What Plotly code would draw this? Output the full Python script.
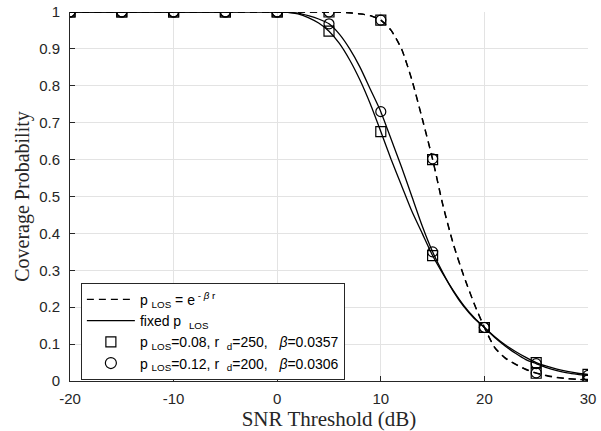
import plotly.graph_objects as go

# ---- data ----
x_line = [-20, -15, -10, -5, 0, 1, 2, 3, 4, 5, 6, 7, 8, 9, 10, 11, 12, 13, 14, 15,
          16, 17, 18, 19, 20, 21, 22, 23, 24, 25, 26, 27, 28, 29, 30]

fixed_sq = [1, 1, 1, 1, 1.0, 0.999, 0.995, 0.985, 0.97, 0.948, 0.915, 0.87, 0.815, 0.75, 0.676,
            0.60, 0.53, 0.46, 0.40, 0.34, 0.29, 0.245, 0.205, 0.172, 0.145,
            0.12, 0.098, 0.08, 0.064, 0.05, 0.04, 0.032, 0.026, 0.021, 0.018]
fixed_ci = [1, 1, 1, 1, 1.0, 0.999, 0.997, 0.99, 0.981, 0.968, 0.94, 0.90, 0.85, 0.79, 0.73,
            0.655, 0.58, 0.50, 0.42, 0.35, 0.293, 0.243, 0.202, 0.17, 0.145,
            0.118, 0.095, 0.075, 0.058, 0.047, 0.036, 0.028, 0.022, 0.018, 0.015]
exp_sq = [1, 1, 1, 1, 1.0, 1.0, 1.0, 1.0, 1.0, 1.0, 0.999, 0.998, 0.995, 0.99, 0.978,
          0.95, 0.90, 0.815, 0.71, 0.60, 0.475, 0.37, 0.285, 0.21, 0.145,
          0.09, 0.062, 0.045, 0.031, 0.021, 0.014, 0.009, 0.006, 0.004, 0.003]
exp_ci = [1, 1, 1, 1, 1.0, 1.0, 1.0, 1.0, 1.0, 1.0, 0.999, 0.998, 0.995, 0.99, 0.978,
          0.95, 0.90, 0.817, 0.712, 0.602, 0.477, 0.372, 0.286, 0.211, 0.145,
          0.091, 0.063, 0.046, 0.032, 0.022, 0.015, 0.01, 0.007, 0.005, 0.003]

x_mark = [-20, -15, -10, -5, 0, 5, 10, 15, 20, 25, 30]
fixed_sq_m = [1, 1, 1, 1, 1, 0.948, 0.676, 0.34, 0.145, 0.05, 0.018]
fixed_ci_m = [1, 1, 1, 1, 1, 0.968, 0.73, 0.35, 0.145, 0.047, 0.015]
exp_sq_m = [1, 1, 1, 1, 1, 1.0, 0.978, 0.60, 0.145, 0.021, 0.003]
exp_ci_m = [1, 1, 1, 1, 1, 1.0, 0.978, 0.602, 0.145, 0.022, 0.003]

x_ticks = [-20, -10, 0, 10, 20, 30]
x_tick_text = ["-20", "-10", "0", "10", "20", "30"]
y_ticks = [0, 0.1, 0.2, 0.3, 0.4, 0.5, 0.6, 0.7, 0.8, 0.9, 1]
y_tick_text = ["0", "0.1", "0.2", "0.3", "0.4", "0.5", "0.6", "0.7", "0.8", "0.9", "1"]

legend_names = [
    "p <sub>LOS</sub> = e<sup> - <i>β</i> r</sup>",
    "fixed p  <sub>LOS</sub>",
    "p <sub>LOS</sub>=0.08, r  <sub>d</sub>=250,   <i>β</i>=0.0357",
    "p <sub>LOS</sub>=0.12, r  <sub>d</sub>=200,   <i>β</i>=0.0306",
]

BLK = "black"
DASH = "7px,5px"

fig = go.Figure()

# curves
for y, dash in [(fixed_sq, "solid"), (fixed_ci, "solid"), (exp_sq, DASH), (exp_ci, DASH)]:
    fig.add_trace(go.Scatter(x=x_line, y=y, mode="lines", showlegend=False, hoverinfo="skip",
                             line=dict(color=BLK, width=1.3, dash=dash, shape="spline", smoothing=0.6)))
# markers
for y, sym in [(fixed_sq_m, "square-open"), (fixed_ci_m, "circle-open"),
               (exp_sq_m, "square-open"), (exp_ci_m, "circle-open")]:
    fig.add_trace(go.Scatter(x=x_mark, y=y, mode="markers", showlegend=False,
                             marker=dict(symbol=sym, size=10, color=BLK, line=dict(width=1.2, color=BLK))))

# legend dummies
fig.add_trace(go.Scatter(x=[None], y=[None], mode="lines", name=legend_names[0],
                         line=dict(color=BLK, width=1.2, dash=DASH)))
fig.add_trace(go.Scatter(x=[None], y=[None], mode="lines", name=legend_names[1],
                         line=dict(color=BLK, width=1.2)))
fig.add_trace(go.Scatter(x=[None], y=[None], mode="markers", name=legend_names[2],
                         marker=dict(symbol="square-open", size=10, color=BLK, line=dict(width=1.2))))
fig.add_trace(go.Scatter(x=[None], y=[None], mode="markers", name=legend_names[3],
                         marker=dict(symbol="circle-open", size=11, color=BLK, line=dict(width=1.2))))

axis_common = dict(showgrid=True, gridcolor="#e3e3e3", gridwidth=1, zeroline=False,
                   showline=True, linecolor="#262626", linewidth=1, automargin=False,
                   ticks="inside", ticklen=5, tickcolor="#262626",
                   tickfont=dict(family="Liberation Sans, Arial", size=15, color="#262626"))

fig.update_layout(
    template="none",
    width=601, height=431,
    margin=dict(l=70, r=13, t=12, b=50),
    paper_bgcolor="white", plot_bgcolor="white",
    xaxis=dict(range=[-20, 30], tickvals=x_ticks, ticktext=x_tick_text, ticklabelstandoff=4,
               title=dict(text="SNR Threshold (dB)", standoff=4,
                          font=dict(family="Liberation Serif, Times New Roman", size=21, color="#262626")),
               **axis_common),
    yaxis=dict(range=[0, 1], tickvals=y_ticks, ticktext=y_tick_text, ticklabelstandoff=6,
               title=dict(text="Coverage Probability", standoff=4,
                          font=dict(family="Liberation Serif, Times New Roman", size=20, color="#262626")),
               **axis_common),
    legend=dict(x=0.021, y=0.266, xanchor="left", yanchor="top",
                bgcolor="white", bordercolor="#262626", borderwidth=1,
                font=dict(family="Liberation Sans, Arial", size=14, color="black"),
                tracegroupgap=0, itemwidth=48),
    showlegend=True,
)

fig.write_html("out.html", post_script="document.body.style.margin='0px';",
               config={"displayModeBar": False})
